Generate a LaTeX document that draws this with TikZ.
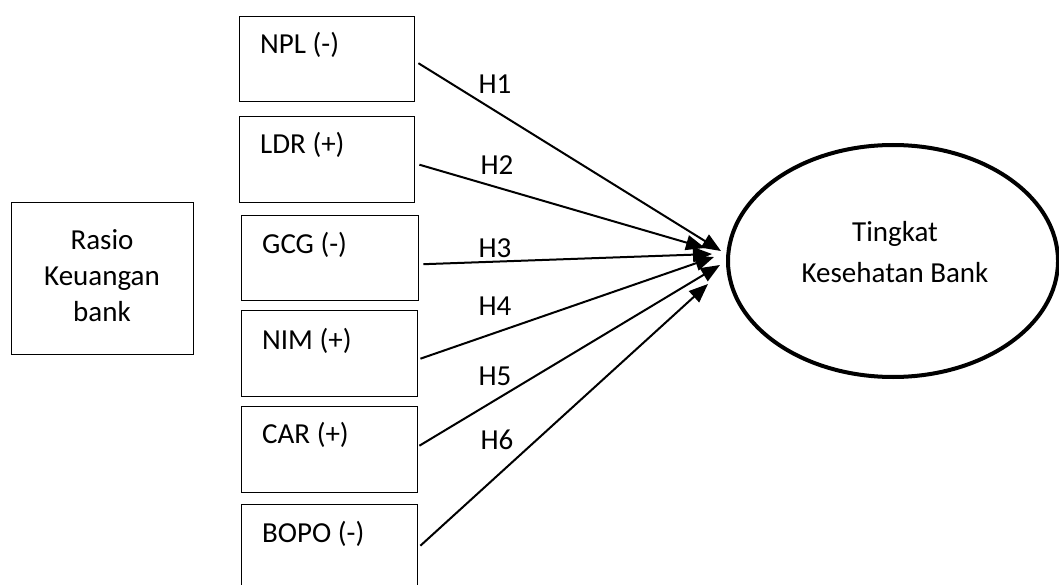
\documentclass[tikz,border=0pt]{standalone}
\usepackage{fontspec}
\setmainfont{Carlito}
\usetikzlibrary{arrows.meta,calc,shapes.geometric}
\begin{document}
\begin{tikzpicture}[x=1pt,y=-1pt,
  box/.style={draw,line width=1.4pt,anchor=north west,minimum width=#1,minimum height=85pt,inner sep=0pt},
  box/.default=176pt,
  txt/.style={font=\fontsize{29}{34}\selectfont,inner sep=0pt},
  arr/.style={line width=2pt,-{Triangle[length=19pt,width=15pt]}},
  hl/.style={txt,anchor=base}]
\useasboundingbox (0,0) rectangle (1059,585);
% left box
\node[box=182pt,minimum height=152pt] (ras) at (11,202) {};
\node[txt,anchor=base] (r1) at (102,249) {Rasio};
\node[txt,anchor=base] (r2) at (102,285) {Keuangan};
\node[txt,anchor=base] (r3) at (102,321) {bank};
% variable boxes
\node[box=175pt] (npl) at (239,16) {};
\node[box=175pt,minimum height=86pt] (ldr) at (239,116) {};
\node[box=177pt] (gcg) at (241,215) {};
\node[box=176pt,minimum height=86pt] (nim) at (241,310) {};
\node[box=176pt,minimum height=86pt] (car) at (241,406) {};
\node[box=176pt,minimum height=82pt] (bopo) at (241,504) {};
\node[txt,anchor=base west] (tnpl) at (260,54) {NPL (-)};
\node[txt,anchor=base west] (tldr) at (260,154) {LDR (+)};
\node[txt,anchor=base west] (tgcg) at (262,253) {GCG (-)};
\node[txt,anchor=base west] (tnim) at (262,349) {NIM (+)};
\node[txt,anchor=base west] (tcar) at (262,443) {CAR (+)};
\node[txt,anchor=base west] (tbopo) at (262,542) {BOPO (-)};
% ellipse
\node[draw,line width=4pt,ellipse,minimum width=330pt,minimum height=232pt,inner sep=0pt] (tkb) at (893,261) {};
\node[txt,anchor=base] (tk1) at (895,241) {Tingkat};
\node[txt,anchor=base] (tk2) at (895,282) {Kesehatan Bank};
% arrow tips
\coordinate (t1) at (721,251);
\coordinate (t2) at (705,248);
\coordinate (t3) at (712,254);
\coordinate (t4) at (714,257);
\coordinate (t5) at (720,265);
\coordinate (t6) at (708,284);
\draw[arr] ($(npl.east)+(3,4)$) -- (t1);
\draw[arr] ($(ldr.east)+(4,5)$) -- (t2);
\draw[arr] ($(gcg.east)+(4,6)$) -- (t3);
\draw[arr] ($(nim.east)+(2,5)$) -- (t4);
\draw[arr] ($(car.east)+(1,-4)$) -- (t5);
\draw[arr] ($(bopo.east)+(2,0)$) -- (t6);
% labels
\node[hl] (h1) at (495,94) {H1};
\node[hl] (h2) at (497,175) {H2};
\node[hl] (h3) at (495,258) {H3};
\node[hl] (h4) at (495,315) {H4};
\node[hl] (h5) at (495,385) {H5};
\node[hl] (h6) at (497,449) {H6};
\end{tikzpicture}
\end{document}
